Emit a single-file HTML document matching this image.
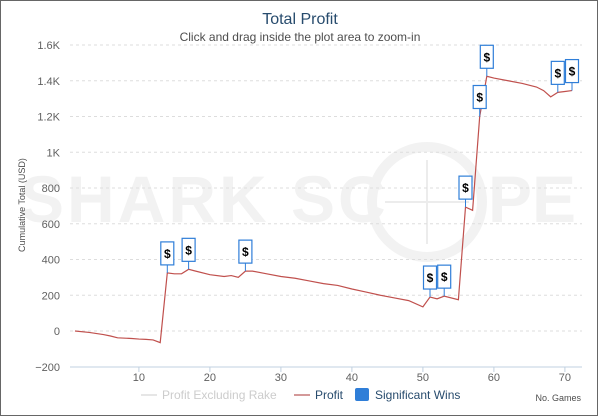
<!DOCTYPE html>
<html><head><meta charset="utf-8"><style>
body{margin:0;background:#fff;}
svg{display:block;font-family:"Liberation Sans","DejaVu Sans",sans-serif;}
</style></head><body>
<svg id="chart" width="600" height="417" viewBox="0 0 600 417">
<rect x="0.5" y="0.5" width="597" height="415" fill="#fff" stroke="#666" stroke-width="1"/>
<g fill="#f2f2f2">
<text x="20" y="222" font-size="66" font-weight="bold" letter-spacing="3">SHARK SC</text>
<circle cx="427" cy="202" r="55" fill="none" stroke="#f2f2f2" stroke-width="10"/>
<line x1="427" y1="160" x2="427" y2="244" stroke="#ececec" stroke-width="2"/>
<line x1="385" y1="202" x2="469" y2="202" stroke="#ececec" stroke-width="2"/>
<text x="488" y="222" font-size="66" font-weight="bold">PE</text>
</g>
<text x="300" y="24" text-anchor="middle" font-size="16" fill="#274b6d">Total Profit</text>
<text x="300" y="41" text-anchor="middle" font-size="12" fill="#4d4d4d">Click and drag inside the plot area to zoom-in</text>
<text transform="translate(25,205) rotate(-90)" text-anchor="middle" font-size="9" fill="#4d4d4d">Cumulative Total (USD)</text>
<text x="581" y="401" text-anchor="end" font-size="9" fill="#4d4d4d">No. Games</text>
<g id="grid"></g><g id="axes"></g><g id="series"></g><g id="markers"></g>
<g font-size="12">
<g><line x1="141" y1="395" x2="157" y2="395" stroke="#ccc"/><text x="162" y="399" fill="#ccc">Profit Excluding Rake</text></g>
<g><line x1="294" y1="395" x2="310" y2="395" stroke="#a33"/><text x="315" y="399" fill="#274b6d">Profit</text></g>
<g><rect x="355" y="388" width="14" height="13" rx="2" fill="#2f7ed8"/><text x="375" y="399" fill="#274b6d">Significant Wins</text></g>
</g>
</svg>
<script>
const games=[1,3,5,6,7,9,10,11,12,13,14,15,16,17,18,20,22,23,24,25,26,28,30,32,34,36,38,40,42,44,46,48,50,51,52,53,55,56,57,58,59,60,62,64,66,67,68,69,70,71];
const profit=[0,-8,-20,-28,-38,-42,-45,-47,-50,-65,325,320,320,345,335,315,305,310,300,335,335,320,305,295,280,265,255,235,218,200,185,170,135,190,180,195,175,693,675,1200,1425,1415,1400,1385,1365,1345,1310,1335,1340,1345];
const winGames=[14,17,25,51,53,56,58,59,69,71];
const yTicks=[-200,0,200,400,600,800,1000,1200,1400,1600];
const yTickLabels=["−200","0","200","400","600","800","1K","1.2K","1.4K","1.6K"];
const xTicks=[10,20,30,40,50,60,70];
const NS='http://www.w3.org/2000/svg';
const X=g=>75+(g-1)*7.1, Y=v=>331-v*0.17875;
function mk(t,a,p){const e=document.createElementNS(NS,t);for(const k in a)e.setAttribute(k,a[k]);p.appendChild(e);return e;}
const grid=document.getElementById('grid'),axes=document.getElementById('axes'),ser=document.getElementById('series'),mrk=document.getElementById('markers');
yTicks.forEach((v,i)=>{
 if(v>-200){const l=mk('line',{x1:70,x2:582,y1:Y(v),y2:Y(v),stroke:'#ddd','stroke-dasharray':'3,3'},grid);
 
 }
 const t=mk('text',{x:60,y:Y(v)+4,'text-anchor':'end','font-size':11,fill:'#606060'},axes);t.textContent=yTickLabels[i];
 
 
});
const ax=mk('line',{x1:70,x2:582,y1:367,y2:367,stroke:'#c0d0e0'},axes);


xTicks.forEach(g=>{
 mk('line',{x1:X(g),x2:X(g),y1:367,y2:372,stroke:'#c0d0e0'},axes);
 const t=mk('text',{x:X(g),y:381,'text-anchor':'middle','font-size':11,fill:'#606060'},axes);t.textContent=g;
 
 
});
const p=mk('polyline',{points:games.map((g,i)=>X(g)+','+Y(profit[i])).join(' '),fill:'none',stroke:'#c0504d','stroke-width':1.2},ser);


winGames.forEach(g=>{
 const i=games.indexOf(g);const x=X(g),y=Y(profit[i]);
 const gg=mk('g',{},mrk);
 
 
 mk('line',{x1:x,x2:x,y1:y,y2:y-8,stroke:'#2f7ed8'},gg);
 mk('rect',{x:x-6.5,y:y-31,width:13,height:23,fill:'#fff',stroke:'#2f7ed8','stroke-width':1.2},gg);
 const t=mk('text',{x:x,y:y-15,'text-anchor':'middle','font-size':12,'font-weight':'bold',fill:'#000'},gg);t.textContent='$';
});
</script>
</body></html>
